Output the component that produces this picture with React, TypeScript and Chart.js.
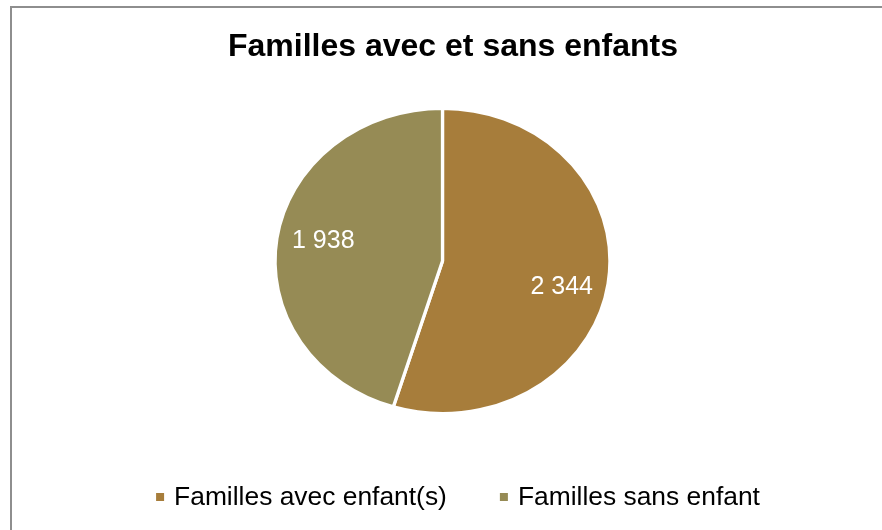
import React, { useEffect, useRef } from "react";
import { Chart, registerables } from "chart.js";

Chart.register(...registerables);

const categories: string[] = ["Familles avec enfant(s)", "Familles sans enfant"];
const values: number[] = [2344, 1938];
const valueLabels: string[] = ["2 344", "1 938"];
const colors: string[] = ["#A77D3B", "#968B55"];
const titleText = "Familles avec et sans enfants";

const FONT = "'Liberation Sans', Arial, sans-serif";
const SX = 1.098;

const ellipsePlugin = {
  id: "ellipse",
  beforeDatasetsDraw(chart: any) {
    const arc = chart.getDatasetMeta(0).data[0];
    if (!arc) return;
    const ctx = chart.ctx;
    ctx.save();
    ctx.translate(arc.x, arc.y);
    ctx.scale(SX, 1);
    ctx.translate(-arc.x, -arc.y);
  },
  afterDatasetsDraw(chart: any) {
    chart.ctx.restore();
  },
};

const labelsPlugin = {
  id: "customLabels",
  afterDraw(chart: any) {
    const ctx = chart.ctx;
    const meta = chart.getDatasetMeta(0);

    // title
    ctx.save();
    ctx.font = `bold 32px ${FONT}`;
    ctx.fillStyle = "#000000";
    ctx.textAlign = "center";
    ctx.textBaseline = "middle";
    ctx.fillText(titleText, 453, 47);
    ctx.restore();

    // value labels
    ctx.save();
    ctx.font = `25px ${FONT}`;
    ctx.fillStyle = "#ffffff";
    ctx.textAlign = "center";
    ctx.textBaseline = "middle";
    meta.data.forEach((arc: any, i: number) => {
      const p = arc.getProps(["x", "y", "startAngle", "endAngle", "outerRadius"], true);
      const mid = (p.startAngle + p.endAngle) / 2;
      const r = p.outerRadius * 0.72;
      const x = p.x + Math.cos(mid) * r * SX;
      const y = p.y + Math.sin(mid) * r * 1.4 + 3;
      ctx.fillText(valueLabels[i], x, y);
    });
    ctx.restore();

    // legend
    ctx.save();
    ctx.font = `26.4px ${FONT}`;
    ctx.textBaseline = "middle";
    ctx.textAlign = "left";
    const box = 8;
    const gapBox = 10;
    const gapItems = 53;
    const widths = categories.map((c) => box + gapBox + ctx.measureText(c).width);
    const total = widths.reduce((a, b) => a + b, 0) + gapItems * (categories.length - 1);
    let x = 458 - total / 2;
    const y = 497;
    categories.forEach((c, i) => {
      ctx.fillStyle = colors[i];
      ctx.fillRect(x, y - box / 2, box, box);
      ctx.fillStyle = "#000000";
      ctx.fillText(c, x + box + gapBox, y + 1);
      x += widths[i] + gapItems;
    });
    ctx.restore();
  },
};

export default function App() {
  const ref = useRef<HTMLCanvasElement | null>(null);
  useEffect(() => {
    if (!ref.current) return;
    const chart = new Chart(ref.current, {
      type: "pie",
      data: {
        labels: categories,
        datasets: [
          {
            data: values,
            backgroundColor: colors,
            borderColor: "#ffffff",
            borderWidth: 3,
          },
        ],
      },
      options: {
        responsive: false,
        animation: false,
        devicePixelRatio: 1,
        layout: { padding: { top: 107, left: 3, right: 0, bottom: 115 } },
        plugins: {
          legend: { display: false },
          tooltip: { enabled: false },
          title: { display: false },
        },
      },
      plugins: [ellipsePlugin, labelsPlugin],
    } as any);
    return () => chart.destroy();
  }, []);

  return (
    <div
      style={{
        position: "fixed",
        left: 0,
        top: 0,
        width: 882,
        height: 530,
        overflow: "hidden",
        background: "#ffffff",
      }}
    >
      <div
        style={{
          position: "absolute",
          left: 10,
          top: 6,
          width: 920,
          height: 620,
          border: "2px solid #8e8e8e",
          boxSizing: "border-box",
        }}
      />
      <canvas
        ref={ref}
        width={882}
        height={530}
        style={{ position: "absolute", left: 0, top: 0, width: 882, height: 530 }}
      />
    </div>
  );
}
